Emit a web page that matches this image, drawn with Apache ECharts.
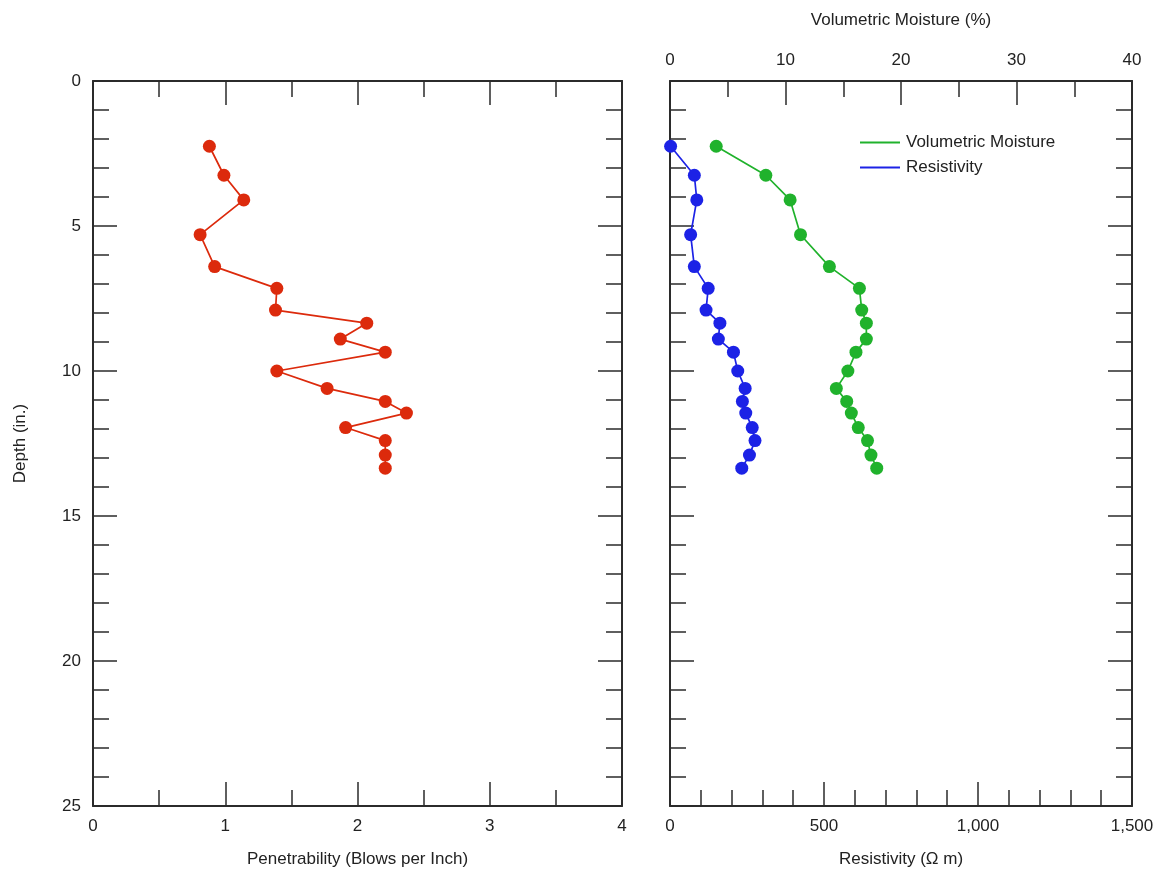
<!DOCTYPE html>
<html>
<head>
<meta charset="utf-8">
<script src="https://cdn.jsdelivr.net/npm/echarts@6/dist/echarts.min.js"></script>
<style>
  html, body { margin: 0; padding: 0; background: #fff; }
  #chart { width: 1170px; height: 879px; }
</style>
</head>
<body>
<div id="chart"></div>
<script>
// depth of each reading (in.)
const depth = [2.25, 3.25, 4.1, 5.3, 6.4, 7.15, 7.9, 8.35, 8.9, 9.35, 10.0, 10.6, 11.05, 11.45, 11.95, 12.4, 12.9, 13.35]
// penetrability (blows per inch)
const penetrability = [0.88, 0.99, 1.14, 0.81, 0.92, 1.39, 1.38, 2.07, 1.87, 2.21, 1.39, 1.77, 2.21, 2.37, 1.91, 2.21, 2.21, 2.21]
// volumetric moisture (%)
const moisture = [4.0, 8.3, 10.4, 11.3, 13.8, 16.4, 16.6, 17.0, 17.0, 16.1, 15.4, 14.4, 15.3, 15.7, 16.3, 17.1, 17.4, 17.9]
// resistivity (ohm m)
const resistivity = [2, 79, 87, 67, 79, 124, 117, 162, 157, 206, 220, 244, 235, 246, 267, 276, 258, 233]

const font = 'Liberation Sans, Arial, sans-serif'
const axisColor = '#2b2b2b'
const red = '#dc2a0c'
const green = '#20b22c'
const blue = '#1c22e6'

function pairs(xs) {
  return xs.map((v, i) => [v, depth[i]])
}

// shared axis look: box frame with inward ticks
function frameAxis(extra) {
  return Object.assign({
    type: 'value',
    axisLine: { show: true, onZero: false, lineStyle: { color: axisColor, width: 2 } },
    axisTick: { show: true, inside: true, length: 24, lineStyle: { color: axisColor, width: 1.5 } },
    minorTick: { show: true, length: 16, lineStyle: { color: axisColor, width: 1.5 } },
    splitLine: { show: false },
    axisLabel: { show: false, color: '#222', fontSize: 17, fontFamily: font, margin: 12 },
    nameTextStyle: { color: '#222', fontSize: 17, fontFamily: font }
  }, extra)
}

function minor(n) {
  return { show: true, splitNumber: n, length: 16, lineStyle: { color: axisColor, width: 1.5 } }
}

const option = {
  animation: false,
  backgroundColor: '#fff',
  grid: [
    { left: 93, right: 548, top: 81, bottom: 73 },
    { left: 670, right: 38, top: 81, bottom: 73 }
  ],
  xAxis: [
    frameAxis({
      gridIndex: 0, position: 'bottom', min: 0, max: 4, interval: 1,
      minorTick: minor(2),
      axisLabel: { show: true, color: '#222', fontSize: 17, fontFamily: font, margin: 12 },
      name: 'Penetrability (Blows per Inch)', nameLocation: 'middle', nameGap: 45
    }),
    frameAxis({
      gridIndex: 0, position: 'top', min: 0, max: 4, interval: 1,
      minorTick: minor(2)
    }),
    frameAxis({
      gridIndex: 1, position: 'bottom', min: 0, max: 1500, interval: 500,
      minorTick: minor(5),
      axisLabel: {
        show: true, color: '#222', fontSize: 17, fontFamily: font, margin: 12,
        formatter: v => v.toLocaleString('en-US')
      },
      name: 'Resistivity (\u03A9 m)', nameLocation: 'middle', nameGap: 45
    }),
    frameAxis({
      gridIndex: 1, position: 'top', min: 0, max: 40, interval: 10,
      minorTick: minor(2),
      axisLabel: { show: true, color: '#222', fontSize: 17, fontFamily: font, margin: 12 },
      name: 'Volumetric Moisture (%)', nameLocation: 'middle', nameGap: 52
    })
  ],
  yAxis: [
    frameAxis({
      gridIndex: 0, position: 'left', inverse: true, min: 0, max: 25, interval: 5,
      minorTick: minor(5),
      axisLabel: { show: true, color: '#222', fontSize: 17, fontFamily: font, margin: 12 },
      name: 'Depth (in.)', nameLocation: 'middle', nameGap: 64, nameRotate: 90
    }),
    frameAxis({
      gridIndex: 0, position: 'right', inverse: true, min: 0, max: 25, interval: 5,
      minorTick: minor(5)
    }),
    frameAxis({
      gridIndex: 1, position: 'left', inverse: true, min: 0, max: 25, interval: 5,
      minorTick: minor(5)
    }),
    frameAxis({
      gridIndex: 1, position: 'right', inverse: true, min: 0, max: 25, interval: 5,
      minorTick: minor(5)
    })
  ],
  legend: {
    orient: 'vertical',
    left: 860,
    top: 134,
    padding: 0,
    itemWidth: 40,
    itemHeight: 2,
    itemGap: 8,
    icon: 'rect',
    data: ['Volumetric Moisture', 'Resistivity'],
    textStyle: { color: '#222', fontSize: 17, fontFamily: font, padding: [0, 0, 0, 1] }
  },
  series: [
    {
      name: 'Penetrability',
      type: 'line',
      xAxisIndex: 0, yAxisIndex: 0,
      data: pairs(penetrability),
      symbol: 'circle', symbolSize: 13,
      lineStyle: { color: red, width: 1.7 },
      itemStyle: { color: red }
    },
    {
      name: 'Volumetric Moisture',
      type: 'line',
      xAxisIndex: 3, yAxisIndex: 2,
      data: pairs(moisture),
      symbol: 'circle', symbolSize: 13,
      lineStyle: { color: green, width: 1.7 },
      itemStyle: { color: green }
    },
    {
      name: 'Resistivity',
      type: 'line',
      xAxisIndex: 2, yAxisIndex: 2,
      data: pairs(resistivity),
      symbol: 'circle', symbolSize: 13,
      lineStyle: { color: blue, width: 1.7 },
      itemStyle: { color: blue }
    }
  ]
}

const chart = echarts.init(document.getElementById('chart'))
chart.setOption(option)
</script>
</body>
</html>
